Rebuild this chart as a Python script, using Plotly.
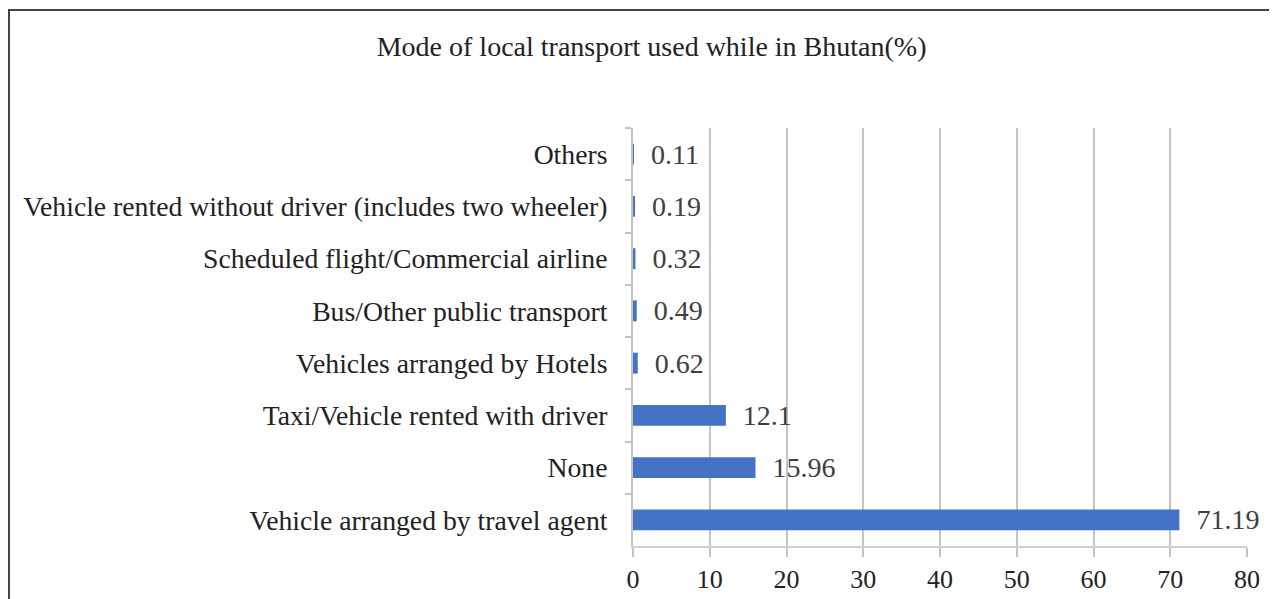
import plotly.graph_objects as go

# Data (top to bottom as shown)
categories = [
    "Others",
    "Vehicle rented without driver (includes two wheeler)",
    "Scheduled flight/Commercial airline",
    "Bus/Other public transport",
    "Vehicles arranged by Hotels",
    "Taxi/Vehicle rented with driver",
    "None",
    "Vehicle arranged by travel agent",
]
values = [0.11, 0.19, 0.32, 0.49, 0.62, 12.1, 15.96, 71.19]
x_ticks = [0, 10, 20, 30, 40, 50, 60, 70, 80]

FONT = "Liberation Serif, Times New Roman, serif"

fig = go.Figure()
fig.add_trace(go.Bar(
    x=values,
    y=categories,
    orientation="h",
    marker=dict(color="#4472C4", line=dict(width=0)),
    text=[f"{v:g}" for v in values],
    texttemplate="\u00a0\u00a0%{text}",
    textposition="outside",
    constraintext="none",
    textfont=dict(family=FONT, size=28, color="#404040"),
    cliponaxis=False,
))

fig.update_layout(
    width=1277, height=599,
    margin=dict(l=625, r=38, t=120, b=61),
    paper_bgcolor="white",
    plot_bgcolor="white",
    bargap=0.6,
    showlegend=False,
    font=dict(family=FONT, size=27, color="#222222"),
    title=dict(
        text="Mode of local transport used while in Bhutan(%)",
        x=0.504, xref="container", xanchor="center",
        y=0.937, yref="container", yanchor="middle",
        font=dict(family=FONT, size=28, color="#222222"),
    ),
)

fig.update_xaxes(
    range=[0, 80],
    tickvals=x_ticks,
    showgrid=True, gridcolor="#c4c4c4", gridwidth=2,
    zeroline=False,
    showline=True, linecolor="#d0d0d0", linewidth=2,
    ticks="outside", ticklen=9, tickcolor="#c4c4c4", tickwidth=2,
    tickfont=dict(family=FONT, size=26, color="#222222"),
)
fig.update_yaxes(
    autorange="reversed",
    showgrid=False,
    showline=True, linecolor="#c4c4c4", linewidth=2,
    ticks="outside", tickson="boundaries", ticklen=6,
    tickcolor="#c4c4c4", tickwidth=2,
    ticklabelstandoff=18,
    tickfont=dict(family=FONT, size=27.7, color="#222222"),
)

# outer frame of the picture
fig.add_shape(
    type="rect", xref="paper", yref="paper",
    x0=-1.0163, x1=1.1, y0=-0.2, y1=1.2823,
    line=dict(color="#444444", width=2),
    fillcolor="rgba(0,0,0,0)", layer="below",
)

fig.write_html("out.html")
